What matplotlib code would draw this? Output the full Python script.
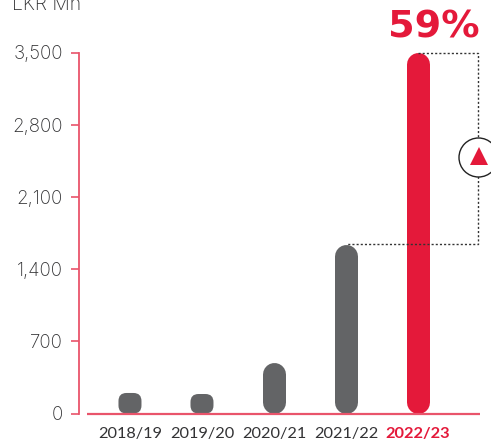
import matplotlib.pyplot as plt
from matplotlib.patches import FancyBboxPatch

# data
years = ['2018/19', '2019/20', '2020/21', '2021/22', '2022/23']
values = [199, 189, 490, 1643, 3500]
yticks = [0, 700, 1400, 2100, 2800, 3500]

RED = '#e4193a'
LINE = '#e9546b'
GREY = '#636466'
TEXT = '#333335'

W, H = 491, 446
plt.rcParams['font.family'] = ['Lato', 'DejaVu Sans']

fig = plt.figure(figsize=(W / 100, H / 100), dpi=100)
ax = fig.add_axes([79 / W, 32.5 / H, (W - 79) / W, 361 / H])
ax.set_xlim(-0.708, 5.014)
ax.set_ylim(0, 3500)
ax.patch.set_visible(False)

px_x = 1 / 72            # one pixel in x data units
px_y = 3500 / 361        # one pixel in y data units
BAR_PX = 23

for i, v in enumerate(values):
    color = RED if i == len(values) - 1 else GREY
    if v / px_y > BAR_PX:
        # tall bars are pills, a thick line with round caps
        r = BAR_PX / 2 * px_y
        ax.plot([i, i], [r, v - r], color=color, lw=BAR_PX * 0.72,
                solid_capstyle='round', zorder=2, clip_on=False)
    else:
        bar = FancyBboxPatch((i - BAR_PX / 2 * px_x, 0), BAR_PX * px_x, v,
                             boxstyle='round,pad=0,rounding_size=%f' % (8 * px_x),
                             mutation_aspect=px_y / px_x,
                             fc=color, ec='none', zorder=2)
        ax.add_patch(bar)

# axis lines
for s in ['top', 'right', 'bottom']:
    ax.spines[s].set_visible(False)
ax.spines['left'].set_color(LINE)
ax.spines['left'].set_linewidth(1.3)
ax.plot([(87 - 130) * px_x, (480 - 130) * px_x], [0, 0], color=LINE, lw=1.6,
        clip_on=False, zorder=3, solid_capstyle='butt')

ax.set_yticks(yticks)
ax.set_yticklabels(['{:,}'.format(t) for t in yticks], fontsize=13.5,
                   color=TEXT, family=['Inter', 'DejaVu Sans'], fontweight='light')
ax.tick_params(axis='y', length=6, width=1.2, color=LINE, pad=5.5)
ax.set_xticks(range(len(years)))
ax.set_xticklabels(years, fontsize=11.8, color=TEXT)
ax.tick_params(axis='x', length=0, pad=10)
ax.get_xticklabels()[-1].set_color(RED)
ax.get_xticklabels()[-1].set_fontweight('bold')

# dotted bracket between the last two bars
dx = (478.5 - 130) * px_x
ax.plot([4, dx, dx, 3], [values[4], values[4], values[3], values[3]],
        color='#333333', lw=1, ls=(0, (1.5, 1.5)), clip_on=False, zorder=3)

# up marker on the bracket
circ = plt.Circle((478.5, H - 157.5), 19.5, transform=None,
                  fc='white', ec='#222222', lw=1)
circ.set_figure(fig)
fig.patches.append(circ)
tri = plt.Polygon([(470, H - 165), (488, H - 165), (479, H - 147)], transform=None,
                  fc=RED, ec='none')
tri.set_figure(fig)
fig.patches.append(tri)

fig.text(12 / W, 1 - 10 / H, 'LKR Mn', fontsize=14, color=TEXT, va='baseline',
         family=['Inter', 'DejaVu Sans'], fontweight='light')
fig.text(433.5 / W, 1 - 38 / H, '59%', fontsize=27.5, color=RED, va='baseline', ha='center',
         family=['DejaVu Sans'], fontweight='bold')

fig.savefig('out.png', dpi=100)
